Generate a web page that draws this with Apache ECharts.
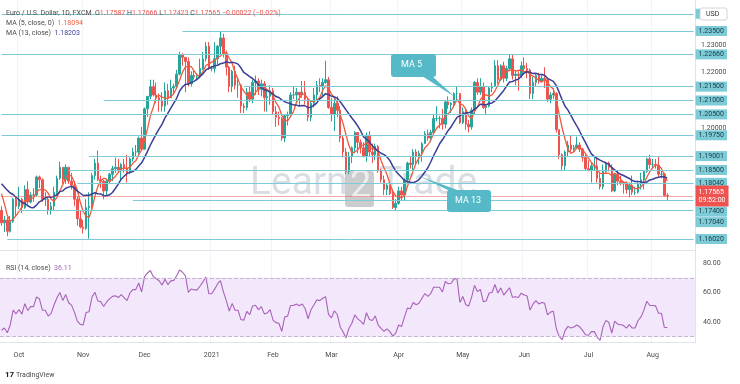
<!DOCTYPE html>
<html><head><meta charset="utf-8">
<script src="https://cdn.jsdelivr.net/npm/echarts@6/dist/echarts.min.js"></script>
<style>html,body{margin:0;padding:0;background:#fff;}#c{width:740px;height:384px;}</style>
</head><body><div id="c"></div>
<script>
// ---- data: EUR/USD daily, FXCM ----
const firstDate = '2020-09-23';
const warmupClose = [1.1795,1.1830,1.1830,1.1820,1.1905,1.1935,1.1915,1.1855,1.1850,1.1835,1.1820,1.1780,1.1800,1.1815,1.1845,1.1865,1.1845,1.1815,1.1850,1.1840,1.1770,1.1705];
const closes = [
 1.1660,1.1670,1.1630,1.1665,1.1745,1.1720,
 1.1745,1.1715,1.1780,1.1735,1.1760,1.1760,1.1825,1.1815,1.1745,1.1745,1.1705,1.1720,1.1770,1.1820,1.1860,1.1815,1.1860,1.1810,1.1795,1.1745,1.1675,1.1645,
 1.1640,1.1715,1.1720,1.1830,1.1875,1.1815,1.1810,1.1775,1.1810,1.1835,1.1855,1.1860,1.1850,1.1870,1.1855,1.1840,1.1890,1.1915,1.1915,1.1965,1.1925,
 1.2070,1.2115,1.2150,1.2120,1.2110,1.2100,1.2080,1.2135,1.2110,1.2145,1.2150,1.2195,1.2265,1.2255,1.2240,1.2160,1.2190,1.2185,1.2185,1.2215,1.2250,1.2295,1.2215,
 1.2215,1.2250,1.2295,1.2325,1.2270,1.2220,1.2150,1.2205,1.2155,1.2155,1.2080,1.2075,1.2130,1.2105,1.2165,1.2170,1.2140,1.2160,1.2110,1.2115,1.2135,
 1.2060,1.2040,1.2035,1.1965,1.2045,1.2050,1.2120,1.2120,1.2130,1.2120,1.2130,1.2105,1.2040,1.2090,1.2120,1.2155,1.2150,1.2165,1.2175,1.2075,
 1.2050,1.2090,1.2065,1.1965,1.1915,1.1845,1.1900,1.1930,1.1985,1.1950,1.1930,1.1900,1.1975,1.1915,1.1905,1.1935,1.1850,1.1815,1.1780,1.1795,1.1765,1.1715,1.1730,
 1.1775,1.1760,1.1815,1.1875,1.1870,1.1915,1.1900,1.1910,1.1945,1.1980,1.1965,1.1985,1.2035,1.2035,1.2035,1.2015,1.2095,1.2085,1.2090,1.2125,1.2125,1.2020,
 1.2060,1.2015,1.2005,1.2065,1.2165,1.2130,1.2150,1.2075,1.2080,1.2145,1.2150,1.2225,1.2175,1.2225,1.2180,1.2215,1.2250,1.2190,1.2195,1.2190,1.2225,
 1.2215,1.2210,1.2125,1.2165,1.2190,1.2170,1.2180,1.2175,1.2105,1.2120,1.2125,1.1995,1.1905,1.1865,1.1915,1.1940,1.1925,1.1930,1.1940,1.1925,1.1895,1.1855,
 1.1850,1.1865,1.1865,1.1820,1.1790,1.1845,1.1875,1.1860,1.1775,1.1835,1.1810,1.1805,1.1800,1.1780,1.1795,1.1770,1.1770,1.1800,1.1815,1.1845,1.1890,1.1870,
 1.1870,1.1868,1.1835,1.1835,1.17587,1.17565
];
const highs = [
 1.1720,1.1685,1.1680,1.1685,1.1750,1.1755,
 1.1790,1.1750,1.1795,1.1810,1.1770,1.1785,1.1830,1.1830,1.1820,1.1770,1.1755,1.1735,1.1790,1.1830,1.1880,1.1860,1.1870,1.1860,1.1840,1.1810,1.1755,1.1705,
 1.1670,1.1745,1.1770,1.1840,1.1890,1.1920,1.1830,1.1815,1.1815,1.1840,1.1865,1.1895,1.1890,1.1875,1.1890,1.1905,1.1895,1.1930,1.1940,1.1970,1.2005,
 1.2075,1.2115,1.2175,1.2175,1.2165,1.2125,1.2130,1.2165,1.2160,1.2175,1.2160,1.2210,1.2275,1.2270,1.2255,1.2255,1.2205,1.2210,1.2195,1.2250,1.2275,1.2310,1.2310,
 1.2225,1.2310,1.2300,1.2349,1.2340,1.2280,1.2225,1.2210,1.2225,1.2180,1.2160,1.2090,1.2145,1.2150,1.2175,1.2190,1.2180,1.2175,1.2170,1.2140,1.2155,
 1.2145,1.2080,1.2060,1.2040,1.2050,1.2060,1.2130,1.2150,1.2145,1.2130,1.2170,1.2170,1.2105,1.2100,1.2145,1.2170,1.2180,1.2180,1.2243,1.2185,
 1.2110,1.2110,1.2115,1.2080,1.1975,1.1930,1.1915,1.1935,1.1990,1.1985,1.1960,1.1950,1.1985,1.1990,1.1945,1.1945,1.1940,1.1855,1.1830,1.1800,1.1795,1.1775,1.1745,
 1.1790,1.1790,1.1820,1.1880,1.1900,1.1925,1.1925,1.1920,1.1950,1.1990,1.1995,1.1995,1.2050,1.2080,1.2045,1.2070,1.2100,1.2115,1.2095,1.2130,1.2150,1.2125,
 1.2075,1.2070,1.2030,1.2075,1.2170,1.2180,1.2180,1.2165,1.2085,1.2150,1.2165,1.2245,1.2245,1.2230,1.2240,1.2225,1.2266,1.2265,1.2210,1.2205,1.2240,
 1.2255,1.2235,1.2215,1.2185,1.2195,1.2200,1.2195,1.2220,1.2180,1.2130,1.2145,1.2130,1.1995,1.1910,1.1920,1.1955,1.1975,1.1940,1.1970,1.1950,1.1930,1.1905,
 1.1885,1.1875,1.1895,1.1895,1.1840,1.1870,1.1880,1.1880,1.1870,1.1840,1.1850,1.1830,1.1810,1.1805,1.1805,1.1830,1.1790,1.1810,1.1840,1.1850,1.1895,1.1905,
 1.1890,1.1890,1.1900,1.1850,1.1840,1.17666
];
const lows = [
 1.1650,1.1627,1.1612,1.1625,1.1660,1.1685,
 1.1710,1.1695,1.1710,1.1725,1.1730,1.1735,1.1755,1.1785,1.1735,1.1720,1.1690,1.1690,1.1705,1.1760,1.1815,1.1800,1.1800,1.1800,1.1780,1.1720,1.1650,1.1640,
 1.1622,1.1635,1.1603,1.1710,1.1815,1.1810,1.1785,1.1745,1.1760,1.1800,1.1810,1.1840,1.1840,1.1815,1.1840,1.1805,1.1835,1.1880,1.1900,1.1905,1.1925,
 1.1925,1.2040,1.2105,1.2115,1.2090,1.2060,1.2060,1.2060,1.2085,1.2110,1.2125,1.2140,1.2190,1.2225,1.2130,1.2150,1.2150,1.2175,1.2175,1.2180,1.2210,1.2240,1.2210,
 1.2205,1.2200,1.2230,1.2265,1.2255,1.2190,1.2130,1.2130,1.2140,1.2110,1.2055,1.2055,1.2065,1.2095,1.2090,1.2120,1.2120,1.2115,1.2060,1.2060,1.2085,
 1.2050,1.2005,1.2010,1.1955,1.1950,1.2010,1.2040,1.2105,1.2095,1.2080,1.2110,1.2085,1.2025,1.2025,1.2075,1.2100,1.2130,1.2110,1.2160,1.2070,
 1.2025,1.1990,1.2040,1.1950,1.1895,1.1835,1.1835,1.1875,1.1910,1.1910,1.1910,1.1895,1.1880,1.1900,1.1875,1.1885,1.1840,1.1805,1.1760,1.1760,1.1760,1.1710,1.1704,
 1.1725,1.1740,1.1740,1.1800,1.1855,1.1850,1.1870,1.1870,1.1880,1.1945,1.1955,1.1950,1.1985,1.2025,1.2000,1.1995,1.2000,1.2070,1.2055,1.2075,1.2100,1.2015,
 1.2015,1.1995,1.1985,1.1995,1.2050,1.2120,1.2120,1.2070,1.2050,1.2075,1.2130,1.2150,1.2160,1.2170,1.2165,1.2170,1.2205,1.2175,1.2155,1.2135,1.2180,
 1.2200,1.2180,1.2105,1.2105,1.2150,1.2160,1.2170,1.2145,1.2095,1.2090,1.2105,1.1985,1.1890,1.1847,1.1850,1.1900,1.1915,1.1915,1.1925,1.1915,1.1880,1.1850,
 1.1845,1.1805,1.1850,1.1805,1.1780,1.1780,1.1840,1.1845,1.1770,1.1770,1.1795,1.1795,1.1765,1.1765,1.1752,1.1760,1.1760,1.1765,1.1780,1.1780,1.1840,1.1855,
 1.1860,1.1855,1.1825,1.1820,1.1755,1.17423
];
const monthLabels = ['Oct','Nov','Dec','2021','Feb','Mar','Apr','May','Jun','Jul','Aug'];
const levelPrices = [1.24120,1.23500,1.22660,1.21500,1.21000,1.20500,1.19750,1.19001,1.18500,1.18040,1.17400,1.17040,1.16020];
const levelStartDates = ['2020-09-23','2020-12-18','2020-09-23','2021-01-18','2020-11-11','2020-09-23','2020-09-23','2020-11-04','2020-10-26','2020-10-29','2020-11-25','2020-10-01','2020-09-25'];
const lastPrice = 1.17565;
const lastPriceTimer = '09:52:00';
const priceTicks = [1.16,1.17,1.18,1.19,1.20,1.21,1.22,1.23,1.24];
const rsiTicks = [40,60,80];
const futurePad = 9;

// ---- build ----
const dates = [];
(function(){
  const d = new Date(firstDate + 'T00:00:00Z');
  while (dates.length < closes.length + futurePad) {
    const wd = d.getUTCDay();
    if (wd !== 0 && wd !== 6) dates.push(d.toISOString().slice(0,10));
    d.setUTCDate(d.getUTCDate() + 1);
  }
})();
const W = warmupClose.length;
const allClose = warmupClose.concat(closes);
const candles = closes.map((c, i) => {
  const o = i === 0 ? warmupClose[W-1] : closes[i-1];
  return [o, c, Math.min(lows[i], o, c), Math.max(highs[i], o, c)];
});
function sma(n){
  return closes.map((_, i) => { const j = i + W; let s = 0; for (let k = j-n+1; k <= j; k++) s += allClose[k]; return +(s/n).toFixed(5); });
}
function rsi(n){
  let up = 0, dn = 0; const out = [];
  for (let j = 1; j < allClose.length; j++) {
    const ch = allClose[j] - allClose[j-1];
    const u = Math.max(ch, 0), d = Math.max(-ch, 0);
    if (j <= n) { up += u/n; dn += d/n; } else { up = (up*(n-1)+u)/n; dn = (dn*(n-1)+d)/n; }
    if (j >= W) out.push(+(dn === 0 ? 100 : 100 - 100/(1+up/dn)).toFixed(2));
  }
  return out;
}
const ma5 = sma(5), ma13 = sma(13), rsi14 = rsi(14);
const monthStart = {};
{ let m = 0; for (let i = 1; i < closes.length; i++) { if (dates[i].slice(5,7) !== dates[i-1].slice(5,7)) { monthStart[i] = monthLabels[m++]; } } }

const FONT = 'Roboto, "Liberation Sans", sans-serif';
const LINE_C = '#7ccbd7';
const levelLines = levelPrices.map((p, k) => {
  let off = 0;
  if (Math.abs(p - 1.174) < 1e-6) off = 11;
  if (Math.abs(p - 1.1704) < 1e-6) off = 11.5;
  return [
    { coord: [levelStartDates[k], p], lineStyle: { color: LINE_C, width: 1, type: 'solid' },
      label: { show: true, position: 'end', distance: 2, formatter: p.toFixed(5), backgroundColor: LINE_C, color: '#173a42',
               padding: [2,3,1,3], fontSize: 7, fontFamily: FONT, offset: [0, off] } },
    { coord: [dates[dates.length-1], p] }
  ];
});
levelLines.push([
  { coord: [dates[0], lastPrice], lineStyle: { color: '#ef5350', width: 1, type: 'dotted' },
    label: { show: true, position: 'end', distance: 2, formatter: lastPrice.toFixed(5) + '\n' + lastPriceTimer, backgroundColor: '#ef5350', color: '#fff',
             padding: [3,3,2,3], fontSize: 7, lineHeight: 8, fontFamily: FONT } },
  { coord: [dates[dates.length-1], lastPrice] }
]);

const chart = echarts.init(document.getElementById('c'), null, { renderer: 'canvas' });
const splitFn = (i) => monthStart[i] !== undefined;
chart.setOption({
  animation: false,
  backgroundColor: '#fff',
  grid: [
    { left: 0, right: 45, top: 0, height: 250 },
    { left: 0, right: 45, top: 252, height: 90 }
  ],
  xAxis: [
    { type: 'category', gridIndex: 0, data: dates, boundaryGap: true,
      axisLine: { show: true, lineStyle: { color: '#e0e3eb' } }, axisTick: { show: false }, axisLabel: { show: false },
      splitLine: { show: true, interval: splitFn, lineStyle: { color: '#f1f3f7' } } },
    { type: 'category', gridIndex: 1, data: dates, boundaryGap: true,
      axisLine: { show: true, lineStyle: { color: '#e0e3eb' } }, axisTick: { show: false },
      axisLabel: { show: true, interval: splitFn, formatter: (v, i) => monthStart[i] || '', fontSize: 7, color: '#4a4a4a', margin: 10, fontFamily: FONT },
      splitLine: { show: true, interval: splitFn, lineStyle: { color: '#f1f3f7' } } }
  ],
  yAxis: [
    { type: 'value', gridIndex: 0, position: 'right', min: 1.15624, max: 1.24615, scale: true,
      axisLine: { show: false }, axisTick: { show: false }, splitLine: { show: false },
      axisLabel: { show: true, customValues: priceTicks, formatter: v => v.toFixed(5), fontSize: 7, color: '#4a4a4a', margin: 6, fontFamily: FONT } },
    { type: 'value', gridIndex: 1, position: 'right', min: 26.44, max: 87.46,
      axisLine: { show: false }, axisTick: { show: false }, splitLine: { show: false },
      axisLabel: { show: true, customValues: rsiTicks, formatter: v => v.toFixed(2), fontSize: 7, color: '#4a4a4a', margin: 8, fontFamily: FONT } }
  ],
  series: [
    { type: 'candlestick', xAxisIndex: 0, yAxisIndex: 0, data: candles, barWidth: 2,
      itemStyle: { color: '#26a69a', color0: '#ef5350', borderColor: '#26a69a', borderColor0: '#ef5350', borderWidth: 1 },
      markLine: { silent: true, symbol: ['none','none'], data: levelLines, z: 5 } },
    { type: 'line', xAxisIndex: 0, yAxisIndex: 0, data: ma5, symbol: 'none', lineStyle: { color: '#f05a3c', width: 1.3 }, z: 3 },
    { type: 'line', xAxisIndex: 0, yAxisIndex: 0, data: ma13, symbol: 'none', lineStyle: { color: '#3b3f96', width: 1.5 }, z: 3 },
    { type: 'line', xAxisIndex: 1, yAxisIndex: 1, data: rsi14, symbol: 'none', lineStyle: { color: '#a862b8', width: 1.1 },
      markArea: { silent: true, itemStyle: { color: '#f3e8fb' }, data: [[{ yAxis: 70 }, { yAxis: 30 }]] },
      markLine: { silent: true, symbol: ['none','none'], label: { show: false }, lineStyle: { color: '#c5b7cf', type: 'dashed', width: 1 }, data: [{ yAxis: 70 }, { yAxis: 30 }] } }
  ],
  graphic: [
    { type: 'line', shape: { x1: 695.5, y1: 0, x2: 695.5, y2: 343 }, style: { stroke: '#e0e3eb', lineWidth: 1 }, z: 1 },
    { type: 'text', left: 250, top: 165, z: 1, style: { text: 'Learn', fontSize: 39, fontFamily: FONT, fill: 'rgba(140,158,176,0.34)' } },
    { type: 'rect', shape: { x: 345, y: 171, width: 29, height: 36, r: 3 }, style: { fill: 'rgba(90,95,100,0.32)' }, z: 1 },
    { type: 'text', left: 350, top: 168, z: 1, style: { text: '2', fontSize: 38, fontFamily: FONT, fill: 'rgba(255,255,255,0.65)' } },
    { type: 'text', left: 379, top: 165, z: 1, style: { text: 'Trade', fontSize: 39, fontFamily: FONT, fill: 'rgba(140,158,176,0.34)', letterSpacing: 6 } },
    { type: 'text', left: 6, top: 10, z: 50, style: { text: '{a|Euro / U.S. Dollar, 1D, FXCM  O}{r|1.17587}{a| H}{r|1.17666}{a| L}{r|1.17423}{a| C}{r|1.17565 −0.00022 (−0.02%)}',
        rich: { a: { fontSize: 7, fill: '#4a4a4a', fontFamily: FONT }, r: { fontSize: 7, fill: '#ef5350', fontFamily: FONT } } } },
    { type: 'text', left: 6, top: 20, z: 50, style: { text: '{a|MA (5, close, 0)  }{r|1.18094}', rich: { a: { fontSize: 7, fill: '#4a4a4a', fontFamily: FONT }, r: { fontSize: 7, fill: '#f05a3c', fontFamily: FONT } } } },
    { type: 'text', left: 6, top: 30, z: 50, style: { text: '{a|MA (13, close)  }{r|1.18203}', rich: { a: { fontSize: 7, fill: '#4a4a4a', fontFamily: FONT }, r: { fontSize: 7, fill: '#3b3f96', fontFamily: FONT } } } },
    { type: 'text', left: 6, top: 265, z: 50, style: { text: '{a|RSI (14, close)  }{r|36.11}', rich: { a: { fontSize: 7, fill: '#4a4a4a', fontFamily: FONT }, r: { fontSize: 7, fill: '#a862b8', fontFamily: FONT } } } },
    { type: 'polygon', z: 60, shape: { points: [[422,76],[432,76],[455,97]] }, style: { fill: '#55b9c7' } },
    { type: 'rect', z: 60, shape: { x: 391, y: 54, width: 45, height: 23, r: 3 }, style: { fill: '#55b9c7' } },
    { type: 'text', z: 61, left: 401, top: 60, style: { text: 'MA 5', fontSize: 9, fill: '#fff', fontFamily: FONT } },
    { type: 'polygon', z: 60, shape: { points: [[419,176],[450,191],[460,191]] }, style: { fill: '#55b9c7' } },
    { type: 'rect', z: 60, shape: { x: 447, y: 190, width: 44, height: 22, r: 3 }, style: { fill: '#55b9c7' } },
    { type: 'text', z: 61, left: 455, top: 196, style: { text: 'MA 13', fontSize: 9, fill: '#fff', fontFamily: FONT } },
    { type: 'rect', z: 70, shape: { x: 700, y: 8, width: 27, height: 12, r: 2 }, style: { fill: '#fff', stroke: '#d1d4dc', lineWidth: 1 } },
    { type: 'text', z: 71, left: 706, top: 10.5, style: { text: 'USD', fontSize: 7, fill: '#333', fontFamily: FONT } },
    { type: 'text', z: 50, left: 5, top: 371, style: { text: '{b|17}{a| TradingView}', rich: { b: { fontSize: 8, fontWeight: 'bold', fill: '#131722', fontFamily: FONT }, a: { fontSize: 7, fill: '#4a4a4a', fontFamily: FONT } } } }
  ]
});
</script></body></html>
